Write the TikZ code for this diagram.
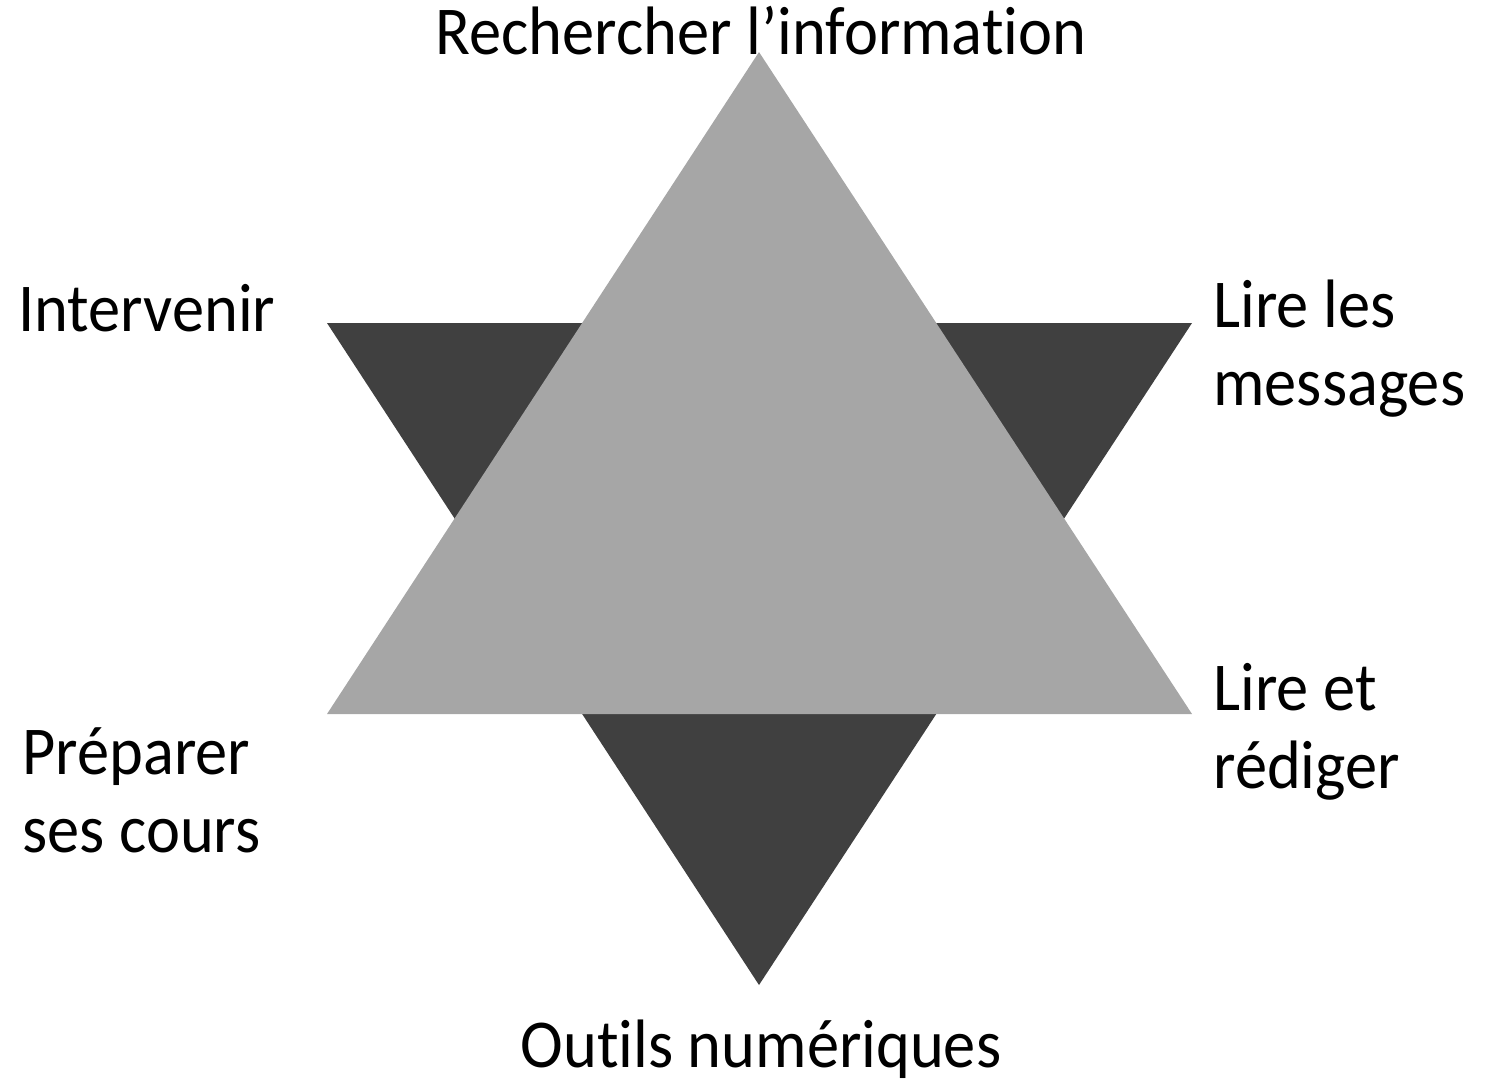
\documentclass[tikz,border=0pt]{standalone}
\usepackage{fontspec}
\setmainfont[Ligatures=NoCommon,FakeStretch=0.94]{Carlito}
\usepackage{xcolor}
\definecolor{lightgrey}{HTML}{A6A6A6}
\definecolor{darkgrey}{HTML}{404040}
\tikzstyle{label}=[inner sep=0pt, align=left, font=\fontsize{39}{44}\selectfont]

\begin{document}
\begin{tikzpicture}[x=0.02cm,y=-0.02cm]
      \useasboundingbox (0,0) rectangle (1494,1086);
      % inverted triangle behind
      \fill [darkgrey] (327,323) -- (1192,323) -- (759,985) -- cycle;
      % upright triangle in front
      \fill [lightgrey] (759,52) -- (1192,714) -- (327,714) -- cycle;
      \node [label,anchor=base] (top) at (761,54) {Rechercher l’information};
      \node [label,anchor=base] (bottom) at (761,1067) {Outils numériques};
      \node [label,anchor=base west] (interv) at (18,331) {Intervenir};
      \node [label,anchor=base west] (messages) at (1213,405) {Lire les\\messages};
      \node [label,anchor=base west] (rediger) at (1213,788) {Lire et\\rédiger};
      \node [label,anchor=base west] (cours) at (22,852) {Préparer\\ses cours};
    \end{tikzpicture}
\end{document}
